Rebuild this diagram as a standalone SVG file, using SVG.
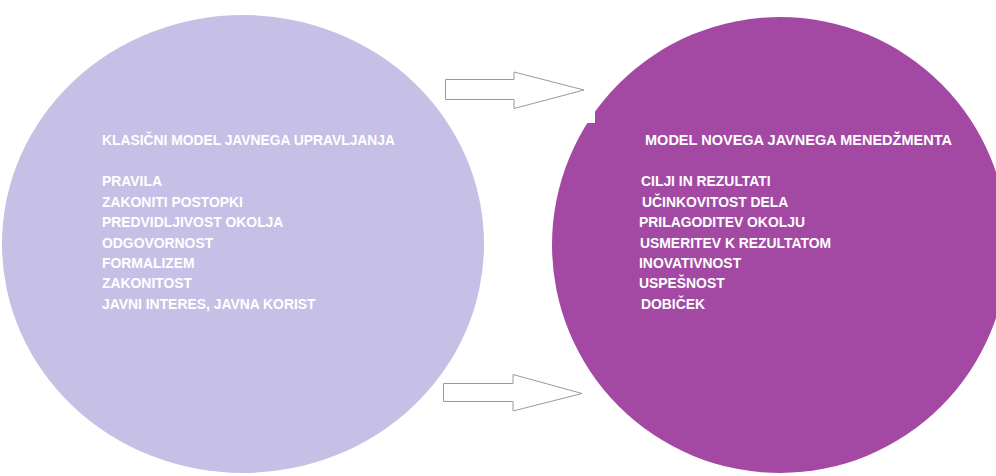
<svg xmlns="http://www.w3.org/2000/svg" width="996" height="476" viewBox="0 0 996 476">
<style>
.t{font-family:"Liberation Sans",Arial,sans-serif;font-weight:bold;font-size:13.9px;fill:#ffffff}
.arrow{fill:#ffffff;stroke:#9a9a9a;stroke-width:1}
</style>
<rect x="0" y="0" width="996" height="476" fill="#ffffff"/>
<g id="node-classic">
<ellipse cx="243" cy="244" rx="241" ry="229" fill="#c6bfe6"/>
<text class="t" x="102" y="145" textLength="293" lengthAdjust="spacingAndGlyphs">KLASIČNI MODEL JAVNEGA UPRAVLJANJA</text>
<text class="t" x="102" y="186">PRAVILA</text>
<text class="t" x="102" y="206.5">ZAKONITI POSTOPKI</text>
<text class="t" x="102" y="227">PREDVIDLJIVOST OKOLJA</text>
<text class="t" x="102" y="247.5">ODGOVORNOST</text>
<text class="t" x="102" y="268">FORMALIZEM</text>
<text class="t" x="102" y="288">ZAKONITOST</text>
<text class="t" x="102" y="308.5">JAVNI INTERES, JAVNA KORIST</text>
</g>
<g id="node-new">
<ellipse cx="780" cy="245" rx="228" ry="228" fill="#a349a4"/>
<rect x="500" y="40" width="95" height="83" fill="#ffffff"/>
<text class="t" x="645" y="145" textLength="307" lengthAdjust="spacingAndGlyphs">MODEL NOVEGA JAVNEGA MENEDŽMENTA</text>
<text class="t" x="641" y="186">CILJI IN REZULTATI</text>
<text class="t" x="642" y="206.5">UČINKOVITOST DELA</text>
<text class="t" x="639" y="227">PRILAGODITEV OKOLJU</text>
<text class="t" x="640" y="247.5">USMERITEV K REZULTATOM</text>
<text class="t" x="639" y="268">INOVATIVNOST</text>
<text class="t" x="639" y="288">USPEŠNOST</text>
<text class="t" x="641" y="308.5">DOBIČEK</text>
</g>
<g id="connectors">
<polygon class="arrow" points="445.5,79.5 514,79.5 514,72 584,90 514,108.5 514,99.5 445.5,99.5"/>
<polygon class="arrow" points="443.5,383.5 513,383.5 513,374.5 582,393.5 513,411 513,401.5 443.5,401.5"/>
</g>
</svg>
